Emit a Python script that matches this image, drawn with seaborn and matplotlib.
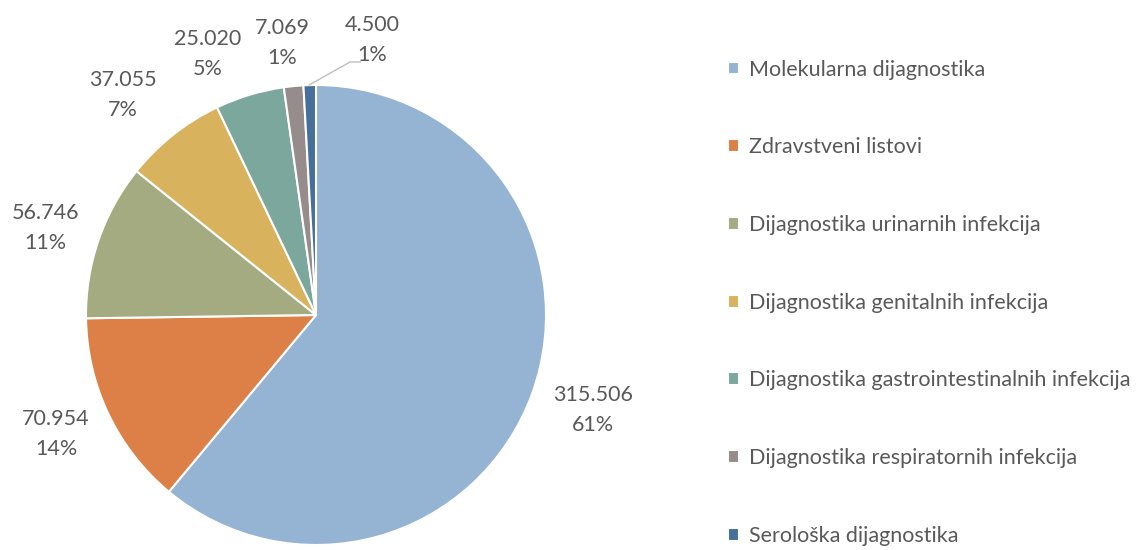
import matplotlib
matplotlib.use("Agg")
import matplotlib.pyplot as plt
import seaborn as sns

# podaci
categories = [
    "Molekularna dijagnostika",
    "Zdravstveni listovi",
    "Dijagnostika urinarnih infekcija",
    "Dijagnostika genitalnih infekcija",
    "Dijagnostika gastrointestinalnih infekcija",
    "Dijagnostika respiratornih infekcija",
    "Serološka dijagnostika",
]
counts = [315506, 70954, 56746, 37055, 25020, 7069, 4500]
colors = ["#95B3D3", "#DD8047", "#A5AB81", "#D8B25C", "#7BA79D", "#968C8C", "#46709A"]

# položaj oznaka (u jedinicama radijusa)
label_pos = [(1.204, -0.413), (-1.130, -0.517), (-1.178, 0.378), (-0.839, 0.957),
             (-0.470, 1.135), (-0.148, 1.183), (0.243, 1.196)]

sns.set_theme(style="white")
plt.rcParams["font.family"] = ["Lato", "DejaVu Sans"]
text_color = "#595959"

fig = plt.figure(figsize=(11.39, 5.5), dpi=100)
ax = fig.add_axes([86 / 1139, 5 / 550, 460 / 1139, 460 / 550])

wedges, _ = ax.pie(counts, colors=colors, startangle=90, counterclock=False,
                   radius=1, wedgeprops=dict(edgecolor="white", linewidth=1.5))
ax.set_xlim(-1, 1)
ax.set_ylim(-1, 1)
ax.set_aspect("equal")
ax.axis("off")

total = sum(counts)
for v, (x, y) in zip(counts, label_pos):
    txt = f"{v:,}".replace(",", ".") + "\n" + f"{round(v / total * 100)}%"
    ax.text(x, y, txt, ha="center", va="center", fontsize=15.5, color=text_color,
            linespacing=1.6)

# linija za najmanji isječak
ax.plot([0.195, 0.148, -0.03], [1.10, 1.10, 1.0], color="#BFBFBF", lw=1, clip_on=False)

leg = fig.legend(wedges, categories, loc="upper left", bbox_to_anchor=(719 / 1139, 1 - 51 / 550),
                 frameon=False, fontsize=15.5, labelcolor=text_color,
                 handlelength=0.55, handleheight=0.55, handletextpad=0.45,
                 labelspacing=2.68, borderaxespad=0)

fig.savefig("out.png", dpi=100)
